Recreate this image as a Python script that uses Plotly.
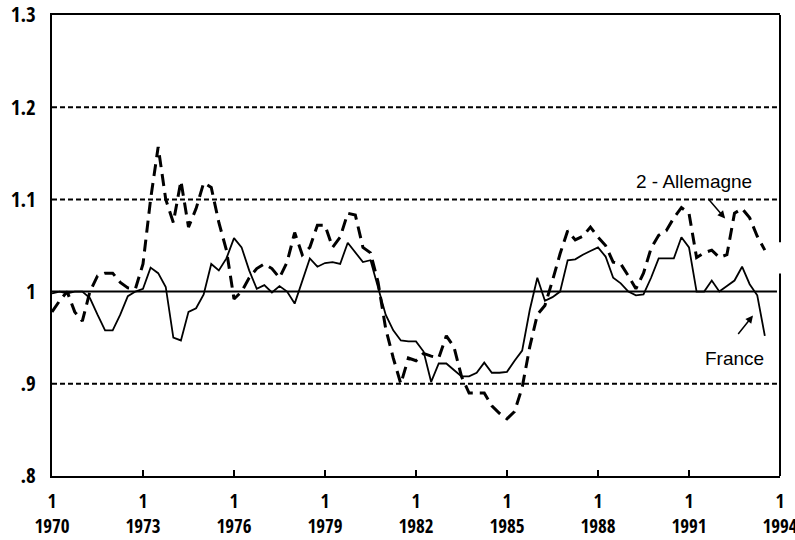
import plotly.graph_objects as go

# Quarterly index 1970Q1 .. 1993Q3
start_year = 1970
n_quarters = 95
quarters = [start_year + i * 0.25 for i in range(n_quarters)]

france = [
    0.998, 1.000, 0.998, 1.000, 1.000, 0.993, 0.975, 0.958, 0.958, 0.975,
    0.995, 1.000, 1.003, 1.026, 1.020, 1.005, 0.950, 0.947, 0.978, 0.982,
    0.997, 1.030, 1.023, 1.036, 1.058, 1.048, 1.023, 1.003, 1.007, 0.999,
    1.006, 1.000, 0.987, 1.012, 1.036, 1.027, 1.031, 1.032, 1.030, 1.053,
    1.043, 1.032, 1.034, 1.003, 0.975, 0.958, 0.947, 0.946, 0.946, 0.935,
    0.902, 0.922, 0.922, 0.915, 0.908, 0.908, 0.912, 0.923, 0.912, 0.912,
    0.913, 0.925, 0.936, 0.980, 1.015, 0.990, 0.994, 1.000, 1.034, 1.035,
    1.040, 1.044, 1.048, 1.038, 1.015, 1.009, 1.000, 0.996, 0.997, 1.015,
    1.036, 1.036, 1.036, 1.059, 1.048, 1.000, 1.000, 1.012, 1.000, 1.006,
    1.012, 1.027, 1.008, 0.996, 0.952,
]

allemagne = [
    0.978, 0.990, 1.000, 0.978, 0.968, 1.000, 1.017, 1.020, 1.020, 1.010,
    1.004, 1.003, 1.030, 1.100, 1.157, 1.100, 1.075, 1.120, 1.070, 1.090,
    1.118, 1.113, 1.075, 1.045, 0.992, 1.000, 1.015, 1.025, 1.030, 1.025,
    1.015, 1.032, 1.064, 1.040, 1.048, 1.072, 1.072, 1.048, 1.059, 1.085,
    1.083, 1.048, 1.042, 1.010, 0.960, 0.928, 0.900, 0.928, 0.925, 0.933,
    0.930, 0.928, 0.952, 0.940, 0.908, 0.890, 0.890, 0.890, 0.876, 0.868,
    0.862, 0.870, 0.896, 0.940, 0.975, 0.985, 1.012, 1.041, 1.066, 1.056,
    1.060, 1.070, 1.059, 1.050, 1.032, 1.030, 1.017, 1.003, 1.020, 1.047,
    1.061, 1.066, 1.080, 1.091, 1.085, 1.037, 1.042, 1.045, 1.037, 1.040,
    1.085, 1.090, 1.080, 1.060, 1.045,
]

x_tick_years = [1970, 1973, 1976, 1979, 1982, 1985, 1988, 1991, 1994]
x_tick_text = ["1<br>1970", "1<br>1973", "1<br>1976", "1<br>1979", "1<br>1982",
               "1<br>1985", "1<br>1988", "1<br>1991", "1<br>1994"]
y_tick_vals = [0.8, 0.9, 1.0, 1.1, 1.2, 1.3]
y_tick_text = [".8", ".9", "1", "1.1", "1.2", "1.3"]
dashed_levels = [0.9, 1.1, 1.2]
solid_level = 1.0

xtick_font = dict(family="Open Sans Condensed", size=19, color="black", weight="bold")
ytick_font = dict(family="Open Sans Condensed", size=21, color="black", weight="bold")

fig = go.Figure()
fig.add_trace(go.Scatter(x=quarters, y=allemagne, mode="lines", name="2 - Allemagne",
                         line=dict(color="black", width=3, dash="12px,7px"), hoverinfo="skip"))
fig.add_trace(go.Scatter(x=quarters, y=france, mode="lines", name="France",
                         line=dict(color="black", width=1.8), hoverinfo="skip"))

shapes = []
for lv in dashed_levels:
    shapes.append(dict(type="line", xref="x", yref="y", x0=1970, x1=1993.9, y0=lv, y1=lv,
                       line=dict(color="black", width=2, dash="5px,3px"), layer="below"))
shapes.append(dict(type="line", xref="x", yref="y", x0=1970, x1=1993.9, y0=solid_level, y1=solid_level,
                   line=dict(color="black", width=2), layer="below"))
# right frame, broken in two pieces as in the original
shapes.append(dict(type="line", xref="paper", yref="y", x0=1, x1=1, y0=1.3, y1=1.0535,
                   line=dict(color="black", width=2)))
shapes.append(dict(type="line", xref="paper", yref="y", x0=1, x1=1, y0=1.0195, y1=0.8,
                   line=dict(color="black", width=2)))

annotations = [
    dict(x=1991.17, y=1.1196, xref="x", yref="y", text="2 - Allemagne", showarrow=False,
         font=dict(family="Liberation Sans", size=19, color="black")),
    dict(x=1992.49, y=0.927, xref="x", yref="y", text="France", showarrow=False,
         font=dict(family="Liberation Sans", size=19, color="black")),
    dict(x=1992.19, y=1.0793, xref="x", yref="y", text="", showarrow=True,
         ax=-18, ay=-21, arrowhead=2, arrowsize=1, arrowwidth=1.5, arrowcolor="black"),
    dict(x=1993.11, y=0.974, xref="x", yref="y", text="", showarrow=True,
         ax=-16, ay=20, arrowhead=2, arrowsize=1, arrowwidth=1.5, arrowcolor="black"),
]

fig.update_layout(
    width=795, height=540,
    margin=dict(l=52, r=15, t=15, b=64),
    paper_bgcolor="white", plot_bgcolor="white",
    showlegend=False,
    hovermode=False,
    shapes=shapes,
    annotations=annotations,
    xaxis=dict(range=[1970, 1994], tickvals=x_tick_years, ticktext=x_tick_text,
               ticks="inside", ticklen=6, tickwidth=2, tickcolor="black",
               showgrid=False, zeroline=False, showline=True, linecolor="black",
               linewidth=2, mirror=True, tickfont=xtick_font, ticklabelstandoff=7,
               automargin=False, ticklabeloverflow="allow"),
    yaxis=dict(range=[0.8, 1.3], tickvals=y_tick_vals, ticktext=y_tick_text,
               ticks="", showgrid=False, zeroline=False, showline=True,
               linecolor="black", linewidth=2, tickfont=ytick_font,
               ticklabelstandoff=10, automargin=False),
)

fig.write_html("out.html", config={"displayModeBar": False},
               post_script="document.body.style.margin='0';")
